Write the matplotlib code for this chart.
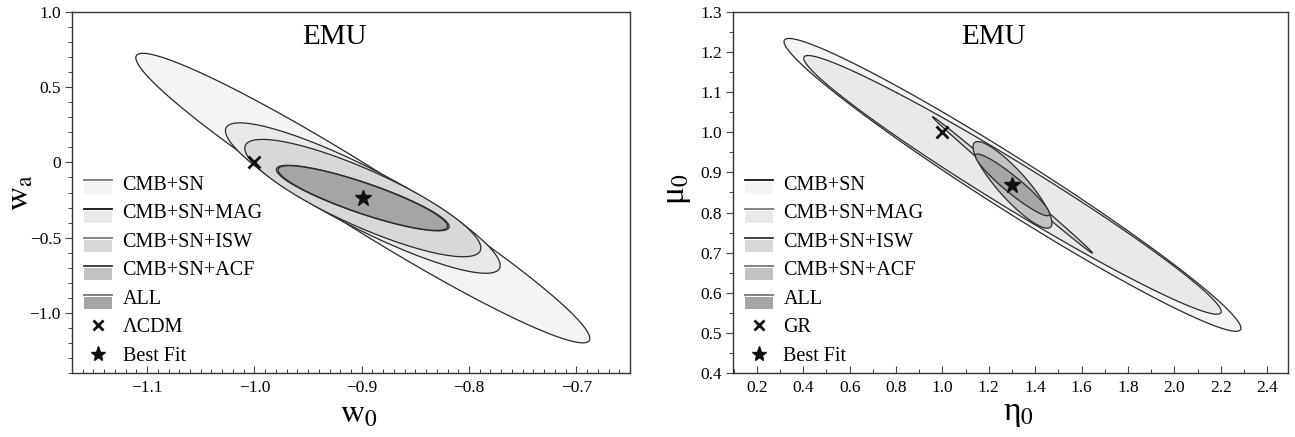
import numpy as np
import matplotlib
matplotlib.use("Agg")
import matplotlib.pyplot as plt
from matplotlib import ticker
from matplotlib.legend_handler import HandlerBase
from matplotlib.lines import Line2D
from matplotlib.patches import Rectangle

plt.rcParams['font.family'] = ['Liberation Serif', 'DejaVu Serif']
plt.rcParams['mathtext.fontset'] = 'stix'

labels = ['CMB+SN', 'CMB+SN+MAG', 'CMB+SN+ISW', 'CMB+SN+ACF', 'ALL']
fills = ['#f4f4f4', '#e9e9e9', '#d8d8d8', '#c2c2c2', '#a5a5a5']

# w0 - wa plane: best fit, LCDM point, 1-sigma extents and correlations
w_best = (-0.899, -0.237)
w_lcdm = (-1.0, 0.0)
w_sx = [0.2115, 0.128, 0.11, 0.0805, 0.079]
w_sy = [0.9625, 0.50, 0.39, 0.218, 0.215]
w_rho = [-0.969, -0.895, -0.85, -0.868, -0.87]
w_legend_lines = ['#777777', '#111111', '#777777', '#333333', '#777777']

# eta0 - mu0 plane
m_best = (1.302, 0.869)
m_gr = (1.0, 1.0)
m_sx = [0.985, 0.90, 0.345, 0.17, 0.16]
m_sy = [0.365, 0.3225, 0.17, 0.108, 0.077]
m_rho = [-0.978, -0.979, -0.9988, -0.88, -0.94]
m_legend_lines = ['#111111', '#777777', '#333333', '#777777', '#777777']


def ellipse(c, sx, sy, rho, n=500):
    t = np.linspace(0, 2 * np.pi, n)
    x = c[0] + sx * np.cos(t)
    y = c[1] + sy * (rho * np.cos(t) + np.sqrt(1 - rho ** 2) * np.sin(t))
    return x, y


class Contour:
    def __init__(self, line, fill):
        self.line = line
        self.fill = fill


class HandlerContour(HandlerBase):
    def create_artists(self, legend, orig_handle, xdescent, ydescent,
                       width, height, fontsize, trans):
        yc = height / 2 - ydescent + 1.5
        rect = Rectangle((-xdescent, yc - 10.0), width, 8.6,
                         facecolor=orig_handle.fill, edgecolor='none',
                         transform=trans)
        line = Line2D([-xdescent, width - xdescent], [yc, yc],
                      color=orig_handle.line, lw=1.3, transform=trans)
        return [rect, line]


def fmt(v, pos):
    if abs(v) < 1e-9:
        return '0'
    return ('%.1f' % v).replace('-', '\u2212')


def draw(ax, best, point, point_label, sx, sy, rho, legend_lines):
    for i in range(len(labels)):
        x, y = ellipse(best, sx[i], sy[i], rho[i])
        ax.fill(x, y, facecolor=fills[i], edgecolor='#2a2a2a', lw=0.9, zorder=2 + i)
    ax.plot(*point, marker='x', color='#111111', ms=8, mew=2, ls='none', zorder=10)
    ax.plot(*best, marker='*', color='#111111', ms=12, ls='none', zorder=10)

    handles = [Contour(legend_lines[i], fills[i]) for i in range(len(labels))]
    handles.append(Line2D([], [], marker='x', color='#111111', ms=7, mew=2, ls='none'))
    handles.append(Line2D([], [], marker='*', color='#111111', ms=11, ls='none'))
    ax.legend(handles, labels + [point_label, 'Best Fit'],
              handler_map={Contour: HandlerContour()},
              loc='upper left', bbox_to_anchor=(0.022, 0.547),
              frameon=False, fontsize=14.5, handlelength=1.4,
              handletextpad=0.5, labelspacing=0.47, borderpad=0,
              borderaxespad=0)

    ax.text(0.47, 0.93, 'EMU', transform=ax.transAxes, ha='center',
            va='center', fontsize=21)
    ax.tick_params(axis='x', which='both', direction='in', labelsize=12.5,
                   pad=5, color='#444444')
    ax.tick_params(axis='y', which='both', direction='out', labelsize=12.5,
                   pad=3, color='#444444')
    ax.tick_params(which='major', length=5, width=0.8)
    ax.tick_params(which='minor', length=3, width=0.7)
    for s in ax.spines.values():
        s.set_color('#333333')
        s.set_linewidth(1.0)


fig = plt.figure(figsize=(12.95, 4.37), dpi=100)
ax1 = fig.add_axes([72 / 1295, 64 / 437, 558 / 1295, 361 / 437])
ax2 = fig.add_axes([733 / 1295, 64 / 437, 555 / 1295, 361 / 437])

draw(ax1, w_best, w_lcdm, '\u039bCDM', w_sx, w_sy, w_rho, w_legend_lines)
ax1.set_xlim(-1.17, -0.65)
ax1.set_ylim(-1.4, 1.0)
ax1.xaxis.set_major_locator(ticker.MultipleLocator(0.1))
ax1.xaxis.set_minor_locator(ticker.MultipleLocator(0.01))
ax1.yaxis.set_major_locator(ticker.MultipleLocator(0.5))
ax1.yaxis.set_minor_locator(ticker.MultipleLocator(0.1))
ax1.xaxis.set_major_formatter(ticker.FuncFormatter(fmt))
ax1.yaxis.set_major_formatter(ticker.FuncFormatter(fmt))
ax1.set_xlabel(r'$\mathrm{w}_0$', fontsize=24)
ax1.set_ylabel(r'$\mathrm{w}_\mathrm{a}$', fontsize=24)
ax1.xaxis.set_label_coords(0.515, -0.071)
ax1.yaxis.set_label_coords(-0.065, 0.5)

draw(ax2, m_best, m_gr, 'GR', m_sx, m_sy, m_rho, m_legend_lines)
ax2.set_xlim(0.097, 2.49)
ax2.set_ylim(0.4, 1.3)
ax2.xaxis.set_major_locator(ticker.MultipleLocator(0.2))
ax2.xaxis.set_minor_locator(ticker.MultipleLocator(0.1))
ax2.yaxis.set_major_locator(ticker.MultipleLocator(0.1))
ax2.yaxis.set_minor_locator(ticker.MultipleLocator(0.05))
ax2.xaxis.set_major_formatter(ticker.FuncFormatter(fmt))
ax2.yaxis.set_major_formatter(ticker.FuncFormatter(fmt))
ax2.set_xlabel('\u03b7$_0$', fontsize=24)
ax2.set_ylabel('\u03bc$_0$', fontsize=24)
ax2.xaxis.set_label_coords(0.515, -0.071)
ax2.yaxis.set_label_coords(-0.072, 0.51)

fig.savefig('out.png', dpi=100)
